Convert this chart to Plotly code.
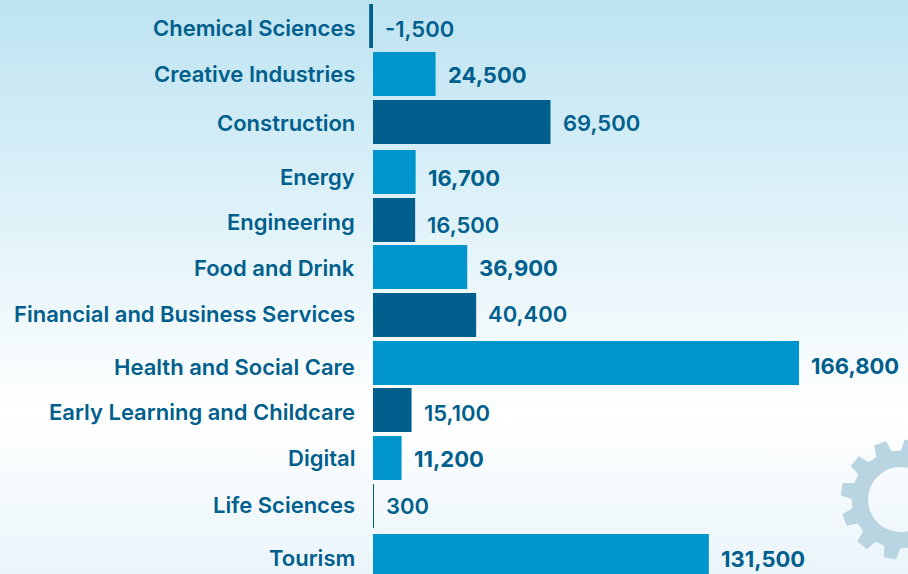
import base64
import numpy as np
import plotly.graph_objects as go

categories = ["Chemical Sciences", "Creative Industries", "Construction", "Energy", "Engineering",
              "Food and Drink", "Financial and Business Services", "Health and Social Care",
              "Early Learning and Childcare", "Digital", "Life Sciences", "Tourism"]
values = [-1500, 24500, 69500, 16700, 16500, 36900, 40400, 166800, 15100, 11200, 300, 131500]
value_labels = ["-1,500", "24,500", "69,500", "16,700", "16,500", "36,900", "40,400",
                "166,800", "15,100", "11,200", "300", "131,500"]

# hand-placed look of the original infographic (pixel nudges per row)
bar_nudge = [0, 0, 0, 2, 2, 1, 1, 1, 0, 0, 0, 2]
cat_nudge = [2, 0, 1, 7, 4, 2, 0, 5, 2, 0, -1, 4]
val_nudge = [3, 1, 1, 8, 7, 2, 0, 4, 3, 1, 0, 5]

DARK, LIGHT, TEXT = "#005F8C", "#0095CC", "#005F8C"
W, H = 908, 574
ROW = 48
PX_PER_UNIT = 426 / 166800
LEFT = 357
ZERO = 373

# background gradient and gear
cx, cy, r_in, r_body, r_tooth = 900.5, 499.5, 32.5, 49, 60
pts = []
for k in range(12):
    a = np.radians(170 + 30 * k)
    for da, r in [(-9.5, r_body), (-6, r_tooth), (6, r_tooth), (9.5, r_body)]:
        pts.append((cx + r * np.cos(a + np.radians(da)), cy - r * np.sin(a + np.radians(da))))
gear = "M" + " L".join(f"{x:.1f},{y:.1f}" for x, y in pts) + " Z"
gear += f" M{cx - r_in},{cy} a{r_in},{r_in} 0 1,0 {2 * r_in},0 a{r_in},{r_in} 0 1,0 {-2 * r_in},0 Z"
svg = f'''<svg xmlns="http://www.w3.org/2000/svg" width="{W}" height="{H}" viewBox="0 0 {W} {H}">
<defs><linearGradient id="g" x1="0" y1="0" x2="0" y2="1">
<stop offset="0" stop-color="#BDE3F1"/><stop offset="0.3" stop-color="#D8EFF7"/>
<stop offset="0.72" stop-color="#FFFFFF"/><stop offset="1" stop-color="#EAF5FA"/>
</linearGradient></defs>
<rect width="{W}" height="{H}" fill="url(#g)"/>
<path d="{gear}" fill="#B9D5E2" fill-rule="evenodd"/></svg>'''
bg = "data:image/svg+xml;base64," + base64.b64encode(svg.encode()).decode()

FONT = "Inter"
colors = [DARK if i % 2 == 0 else LIGHT for i in range(len(values))]
half = 22 / ROW
fig = go.Figure(go.Bar(
    y=categories, x=values, orientation="h", marker=dict(color=colors, line_width=0),
    width=44 / ROW, offset=[-half + n / ROW for n in bar_nudge],
    hoverinfo="skip",
))

ann = []
for i, c in enumerate(categories):
    ann.append(dict(xref="paper", x=0, xanchor="right", xshift=0, yref="y", y=c, yanchor="middle",
                    yshift=-cat_nudge[i], text=c, showarrow=False,
                    font=dict(family=FONT, size=22, color=TEXT, weight=600)))
    ann.append(dict(xref="x", x=max(values[i], 0), xanchor="left", xshift=10, yref="y", y=c, yanchor="middle",
                    yshift=-val_nudge[i], text=value_labels[i], showarrow=False,
                    font=dict(family=FONT, size=22, color=TEXT, weight=700 if i % 2 else 600)))

fig.update_layout(
    width=W, height=H, margin=dict(l=LEFT, r=0, t=0, b=0), showlegend=False,
    paper_bgcolor="white", plot_bgcolor="rgba(0,0,0,0)", font_family=FONT,
    images=[dict(source=bg, xref="paper", yref="paper", x=-LEFT / (W - LEFT), y=1,
                 sizex=W / (W - LEFT), sizey=1, sizing="stretch", xanchor="left", yanchor="top", layer="below")],
    annotations=ann,
    xaxis=dict(range=[(LEFT - ZERO) / PX_PER_UNIT, (W - ZERO) / PX_PER_UNIT], visible=False, fixedrange=True),
    yaxis=dict(type="category", categoryorder="array", categoryarray=categories,
               range=[(H - 26) / ROW, -26 / ROW], showticklabels=False, showgrid=False,
               zeroline=False, showline=False, ticks="", fixedrange=True),
)
fig.write_html("out.html", config={"displayModeBar": False},
               post_script="document.body.style.margin='0';")
